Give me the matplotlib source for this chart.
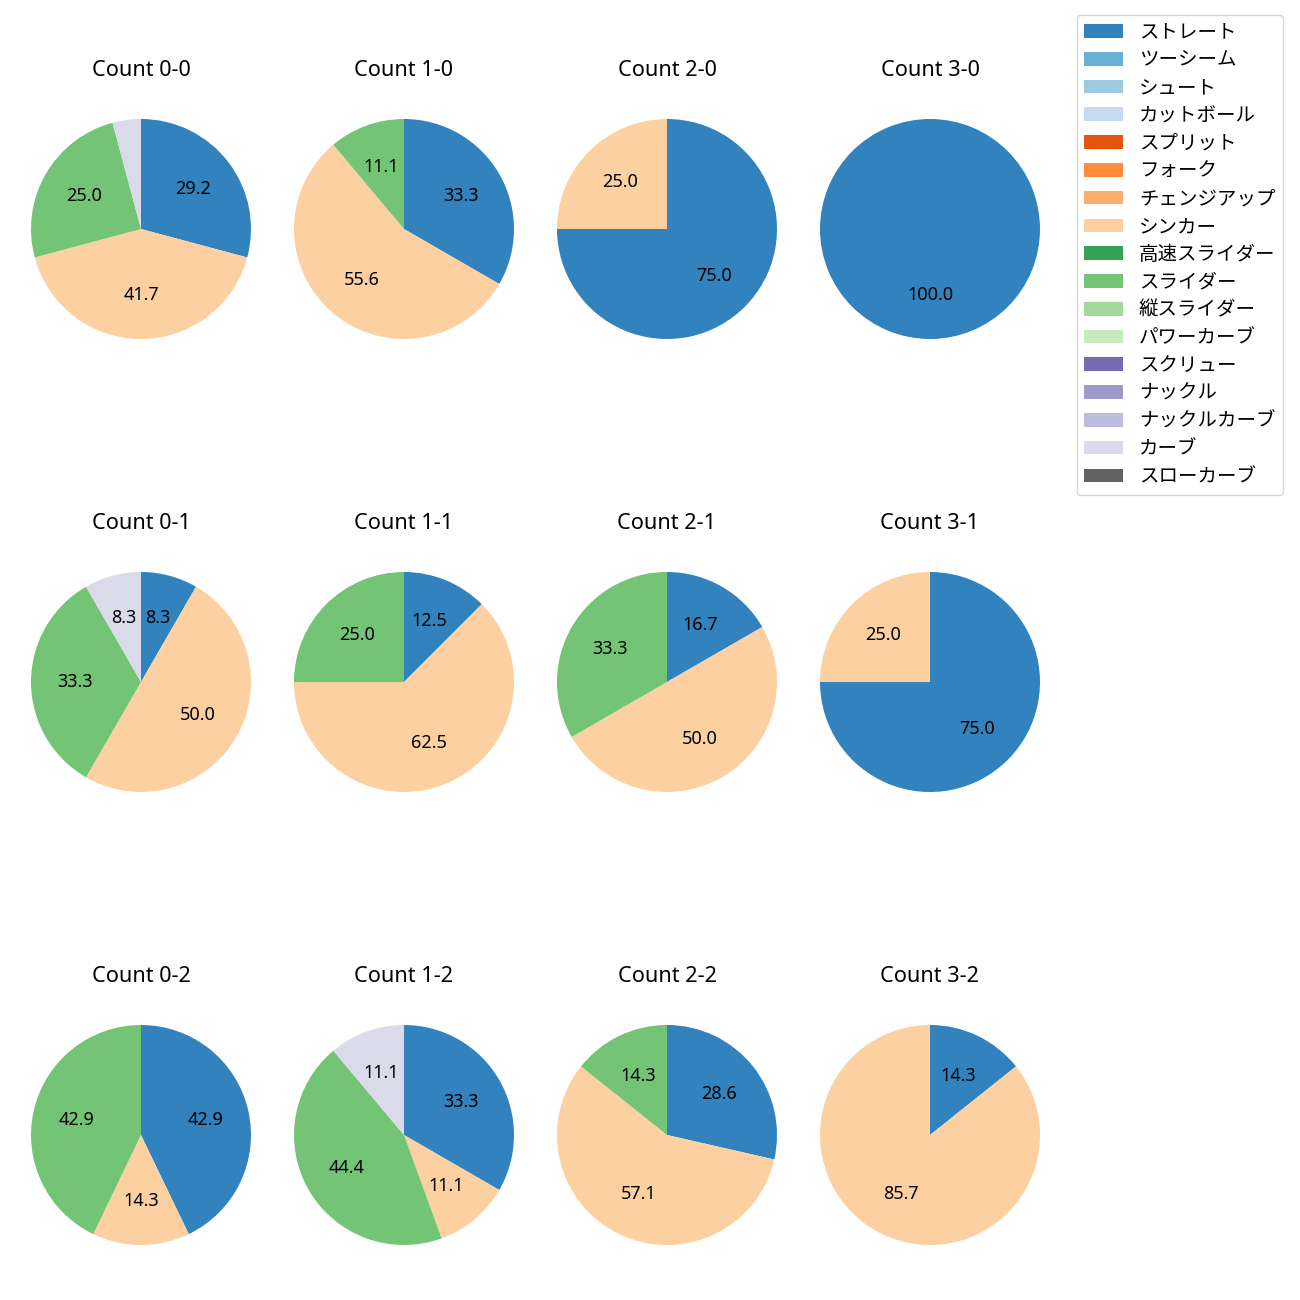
import matplotlib
matplotlib.use("Agg")
import matplotlib.pyplot as plt
from matplotlib.patches import Patch

plt.rcParams["font.family"] = ["Noto Sans", "Noto Sans CJK JP", "DejaVu Sans"]
plt.rcParams["font.size"] = 13

pitch_types = ["ストレート", "ツーシーム", "シュート", "カットボール", "スプリット", "フォーク",
               "チェンジアップ", "シンカー", "高速スライダー", "スライダー", "縦スライダー",
               "パワーカーブ", "スクリュー", "ナックル", "ナックルカーブ", "カーブ", "スローカーブ"]
colors = plt.get_cmap("tab20c").colors[:17]

# counts in order: 0-0, 1-0, 2-0, 3-0, 0-1, 1-1, 2-1, 3-1, 0-2, 1-2, 2-2, 3-2
count_labels = ["0-0", "1-0", "2-0", "3-0", "0-1", "1-1", "2-1", "3-1", "0-2", "1-2", "2-2", "3-2"]
straight = [7, 3, 3, 1, 1, 1, 1, 3, 3, 3, 2, 1]
sinker = [10, 5, 1, 0, 6, 5, 3, 1, 1, 1, 4, 6]
slider = [6, 1, 0, 0, 4, 2, 2, 0, 3, 4, 1, 0]
curve = [1, 0, 0, 0, 1, 0, 0, 0, 0, 1, 0, 0]

series = [(straight, pitch_types.index("ストレート")),
          (sinker, pitch_types.index("シンカー")),
          (slider, pitch_types.index("スライダー")),
          (curve, pitch_types.index("カーブ"))]

fig = plt.figure(figsize=(13, 13), dpi=100)
size = 275 / 1300
for k, label in enumerate(count_labels):
    row, col = divmod(k, 4)
    cx = (141 + 263 * col) / 1300
    cy = 1 - (229 + 453 * row) / 1300
    ax = fig.add_axes([cx - size / 2, cy - size / 2, size, size])
    vals, cols = [], []
    for data, idx in series:
        if data[k] > 0:
            vals.append(data[k])
            cols.append(colors[idx])
    ax.pie(vals, colors=cols, startangle=90, counterclock=False,
           autopct=lambda p: f"{p:.1f}" if p >= 5 else "")
    ax.set_title(f"Count {label}", pad=11)

handles = [Patch(facecolor=c) for c in colors]
fig.legend(handles, pitch_types, loc="upper right", bbox_to_anchor=(0.987, 0.9885),
           borderaxespad=0, fontsize=14, labelspacing=0.40)

fig.savefig("out.png", dpi=100)
